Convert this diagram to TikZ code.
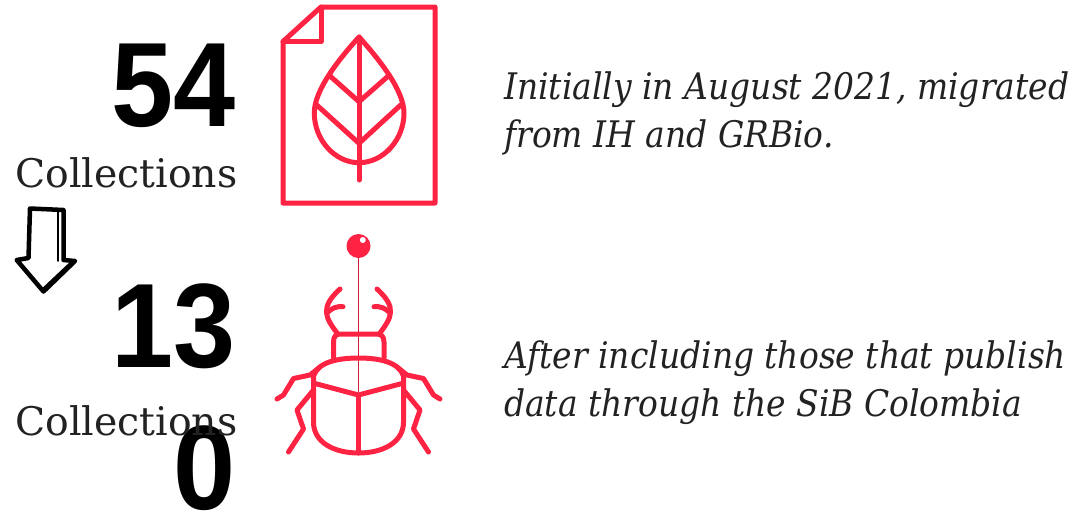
\documentclass[tikz,border=0pt]{standalone}
\usepackage{fontspec}
\setmainfont{DejaVu Serif}
\newfontfamily\numfont{Liberation Sans}
\newfontfamily\serifcond{DejaVu Serif Condensed}
\definecolor{iconred}{HTML}{FF2343}
\definecolor{txt}{HTML}{222222}
\newcommand{\bigdigits}[1]{\scalebox{0.93}[1]{#1}}
\tikzset{
 icon/.style={draw=iconred,line width=5pt,line join=round,line cap=round},
 bignum/.style={anchor=base east,inner sep=0pt,font=\numfont\bfseries\fontsize{120}{120}\selectfont,text=black},
 coll/.style={anchor=base west,inner sep=0pt,font=\rmfamily\fontsize{39.4}{40}\selectfont,text=txt},
 note/.style={anchor=base west,inner sep=0pt,font=\serifcond\itshape\fontsize{36.6}{37}\selectfont,text=txt},
 sketch/.style={draw=black,line width=4.5pt,line join=round,line cap=round}
}
\begin{document}
\begin{tikzpicture}[x=1pt,y=-1pt]
\useasboundingbox (0,0) rectangle (1076,512);
\clip (0,0) rectangle (1076,512);
% numbers
\node[bignum] (n54) at (236,126.5) {\bigdigits{54}};
\node[bignum] (n13) at (236,367) {\bigdigits{13}};
\node[bignum] (n0) at (236,509) {\bigdigits{0}};
\node[coll] (c1) at (15,187) {Collections};
\node[coll] (c2) at (15,435) {Collections};
% notes
\node[note] (t1) at (504,99) {Initially in August 2021, migrated};
\node[note] (t2) at (504,147) {from IH and GRBio.};
\node[note] (t3) at (504,368) {After including those that publish};
\node[note] (t4) at (504,416) {data through the SiB Colombia};
% arrow
\draw[sketch] (30,208.5) -- (63.5,210) -- (63.5,260) -- (75,261) -- (43.5,291.5) -- (16.7,260) -- (28.5,258) -- cycle;
\draw[sketch,line width=1.6pt] (58,210) -- (58,261);
\draw[sketch,line width=1.6pt] (70,263) -- (43.5,288);
% document
\draw[icon] (321,7) -- (435,7) -- (435,203) -- (283,203) -- (283,41.5) -- cycle;
\draw[icon] (321,7) -- (321,41.5) -- (283,41.5);
% leaf
\draw[icon] (359,37) .. controls (340,58) and (314,90) .. (314.3,113)
  .. controls (314.3,140) and (335,162.7) .. (359,162.7)
  .. controls (383,162.7) and (404,140) .. (404,113)
  .. controls (404,90) and (378,58) .. (359,37) -- cycle;
\draw[icon] (359,37) -- (359,180);
\draw[icon] (330,76) -- (359,101.7) -- (388.3,76);
\draw[icon] (316.7,105) -- (359,143.3) -- (400.7,105);
% pin
\draw[iconred!80!black,line width=0.9pt] (358.5,256) -- (358.5,392);
\fill[iconred] (358.5,246) circle (12);
\fill[white] (362.8,240) circle (3);
% beetle
\draw[icon] (313.5,390) -- (313.5,422) .. controls (313.5,443) and (335,453) .. (358.5,453)
  .. controls (382,453) and (403.5,443) .. (403.5,422) -- (403.5,376);
\draw[icon] (313.5,390) -- (313.5,376) .. controls (318,362) and (338,358) .. (358.5,358)
  .. controls (379,358) and (399,362) .. (403.5,376);
\draw[icon] (315,383.5) -- (358.5,395) -- (402,383.5);
\draw[icon] (358.5,395) -- (358.5,453);
\draw[icon] (333.5,358) -- (333.5,342) .. controls (333.5,336) and (336,334) .. (341,334)
  -- (376,334) .. controls (381,334) and (384,336) .. (384,342) -- (384,358);
% antennae
\draw[icon] (337,333) .. controls (326,318) and (319,308) .. (340,289);
\draw[icon] (343,306.7) .. controls (337,306) and (332,308) .. (328,312);
\draw[icon] (380,333) .. controls (391,318) and (398,308) .. (377,289);
\draw[icon] (374,306.7) .. controls (380,306) and (385,308) .. (389,312);
% legs
\draw[icon] (277,399) -- (283.5,395) -- (293.5,378.5) -- (310,375) -- (320,367);
\draw[icon] (313.5,390) -- (297,410) -- (303.5,429) -- (288.5,452);
\draw[icon] (440,399) -- (433.5,395) -- (423.5,378.5) -- (407,375) -- (397,367);
\draw[icon] (403.5,390) -- (420,410) -- (413.5,429) -- (428.5,452);
\end{tikzpicture}
\end{document}
